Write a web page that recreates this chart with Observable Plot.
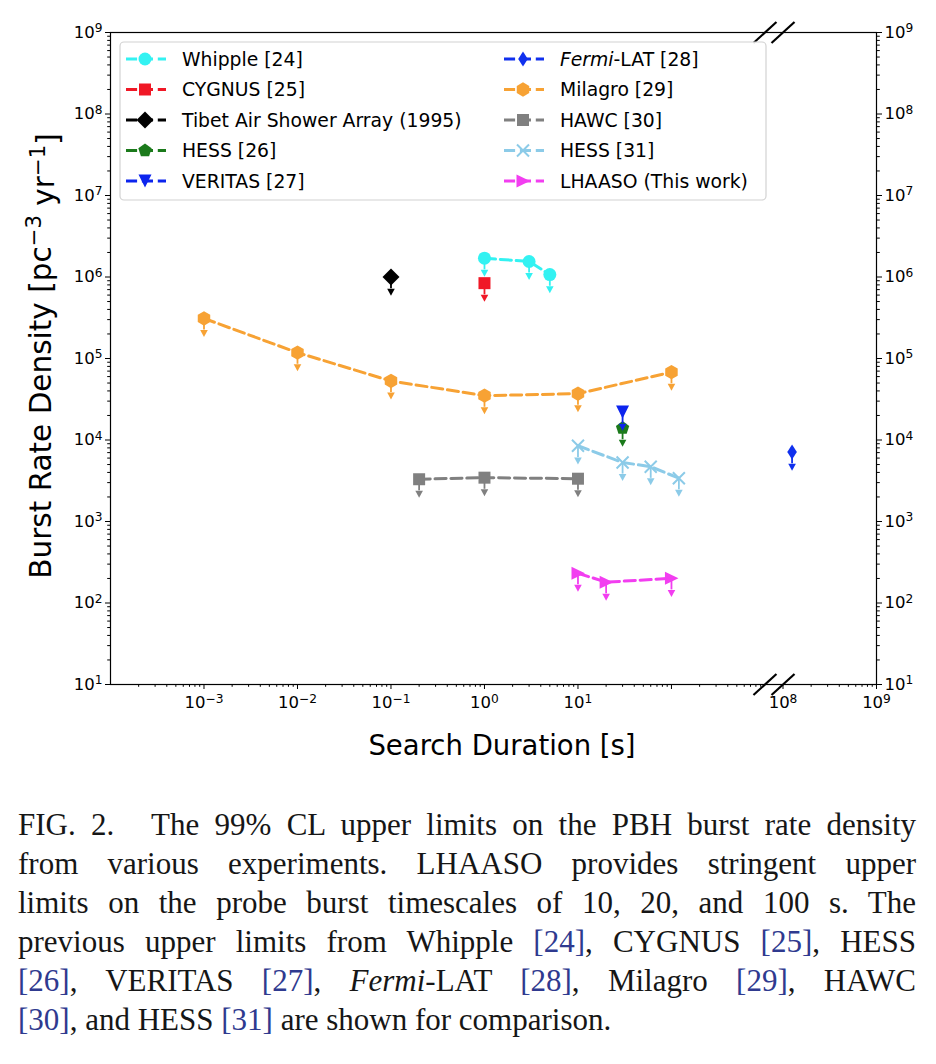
<!DOCTYPE html>
<html>
<head>
<meta charset="utf-8">
<script src="https://cdn.jsdelivr.net/npm/d3@7"></script>
<script src="https://cdn.jsdelivr.net/npm/@observablehq/plot@0.6"></script>
<style>
  body { margin: 0; background: #fff; }
  #chart svg { display: block; }
  #caption {
    font-family: "Liberation Serif", "Times New Roman", serif;
    font-size: 31px;
    line-height: 39px;
    color: #161616;
    width: 898px;
    margin: 15px 0 0 18px;
  }
  #caption .ln { text-align: justify; text-align-last: justify; }
  #caption .ln.last { text-align-last: left; }
  #caption .ref { color: #2f3a8f; }
  #caption .gap { display: inline-block; width: 22px; }
</style>
</head>
<body>
<div id="chart"></div>
<div id="caption">
  <div class="ln">FIG. 2.<span class="gap"></span> The 99% CL upper limits on the PBH burst rate density</div>
  <div class="ln">from various experiments. LHAASO provides stringent upper</div>
  <div class="ln">limits on the probe burst timescales of 10, 20, and 100 s. The</div>
  <div class="ln">previous upper limits from Whipple <span class="ref">[24]</span>, CYGNUS <span class="ref">[25]</span>, HESS</div>
  <div class="ln"><span class="ref">[26]</span>, VERITAS <span class="ref">[27]</span>, <i>Fermi</i>-LAT <span class="ref">[28]</span>, Milagro <span class="ref">[29]</span>, HAWC</div>
  <div class="ln last"><span class="ref">[30]</span>, and HESS <span class="ref">[31]</span> are shown for comparison.</div>
</div>
<script>
// ---- Upper limits on the PBH burst rate density (pc^-3 yr^-1) vs search duration (s) ----
const whippleDur = [1, 3, 5];
const whippleLim = [1.7e6, 1.55e6, 1.07e6];
const cygnusDur = [1];
const cygnusLim = [8.4e5];
const tibetDur = [0.1];
const tibetLim = [1.0e6];
const hess26Dur = [30];
const hess26Lim = [1.4e4];
const veritasDur = [30];
const veritasLim = [2.2e4];
const fermiDur = [1.25e8];
const fermiLim = [7.1e3];
const milagroDur = [1e-3, 1e-2, 1e-1, 1, 10, 100];
const milagroLim = [3.1e5, 1.18e5, 5.3e4, 3.5e4, 3.7e4, 6.8e4];
const hawcDur = [0.2, 1, 10];
const hawcLim = [3.3e3, 3.45e3, 3.35e3];
const hess31Dur = [10, 30, 60, 120];
const hess31Lim = [8.5e3, 5.3e3, 4.7e3, 3.4e3];
const lhaasoDur = [10, 20, 100];
const lhaasoLim = [232, 180, 201];

const seriesNames = ["Whipple [24]", "CYGNUS [25]", "Tibet Air Shower Array (1995)", "HESS [26]", "VERITAS [27]",
                     "Fermi-LAT [28]", "Milagro [29]", "HAWC [30]", "HESS [31]", "LHAASO (This work)"];
const seriesColors = ["#33f2f2", "#f01826", "#000000", "#1b7a1b", "#0c24ee",
                      "#1030ee", "#f7a234", "#808080", "#8ccbe8", "#f23ef0"];

const yMajorTicks = [1e1, 1e2, 1e3, 1e4, 1e5, 1e6, 1e7, 1e8, 1e9];
const xLabeledExponents = [-3, -2, -1, 0, 1, 8, 9];

// ---- broken x axis: log10(duration), with the decades between 1e3 and 1e8 cut out ----
const BREAK_LO = 3;          // log10 of the last value on the left segment
const GAP = 4.807;           // removed span (leaves a small spacer before 1e8)
const BREAK_HI = 8 - GAP;
const xpos = t => { const L = Math.log10(t); return L <= BREAK_LO + 1e-9 ? L : L - GAP; };
const ARROW = 0.72;          // lower end of the upper-limit arrow shaft, as a fraction of the limit

// ---- marker shapes ----
const poly = pts => ({ draw(ctx) { ctx.moveTo(...pts[0]); for (const p of pts.slice(1)) ctx.lineTo(...p); ctx.closePath(); } });
const regular = (n, r, a0) => poly(d3.range(n).map(i => { const a = a0 + i * 2 * Math.PI / n; return [r * Math.cos(a), r * Math.sin(a)]; }));
const circleSym = { draw(ctx) { ctx.moveTo(6.5, 0); ctx.arc(0, 0, 6.5, 0, 2 * Math.PI); } };
const squareSym = poly([[-6, -6], [6, -6], [6, 6], [-6, 6]]);
const diamondSym = poly([[0, -8.5], [8.5, 0], [0, 8.5], [-8.5, 0]]);
const thinDiamondSym = poly([[0, -7.5], [4.8, 0], [0, 7.5], [-4.8, 0]]);
const pentagonSym = regular(5, 7, -Math.PI / 2);
const hexagonSym = regular(6, 7.2, -Math.PI / 2);
const triDownSym = poly([[-6.5, -6.5], [6.5, -6.5], [0, 6.5]]);
const triRightSym = poly([[-6.5, -6.5], [7, 0], [-6.5, 6.5]]);
const xSym = { draw(ctx) { ctx.moveTo(-6, -6); ctx.lineTo(6, 6); ctx.moveTo(-6, 6); ctx.lineTo(6, -6); } };
const arrowSym = poly([[-3.8, 0], [3.8, 0], [0, 7]]);
const slashSym = { draw(ctx) { ctx.moveTo(-11.5, 10.5); ctx.lineTo(11.5, -10.5); } };

const series = [
  { dur: whippleDur, lim: whippleLim, symbol: circleSym },
  { dur: cygnusDur, lim: cygnusLim, symbol: squareSym },
  { dur: tibetDur, lim: tibetLim, symbol: diamondSym },
  { dur: hess26Dur, lim: hess26Lim, symbol: pentagonSym },
  { dur: veritasDur, lim: veritasLim, symbol: triDownSym },
  { dur: fermiDur, lim: fermiLim, symbol: thinDiamondSym },
  { dur: milagroDur, lim: milagroLim, symbol: hexagonSym },
  { dur: hawcDur, lim: hawcLim, symbol: squareSym },
  { dur: hess31Dur, lim: hess31Lim, symbol: xSym, outline: true },
  { dur: lhaasoDur, lim: lhaasoLim, symbol: triRightSym }
].map((s, i) => ({ ...s, name: seriesNames[i], color: seriesColors[i],
                   rows: s.dur.map((t, j) => ({ t, v: s.lim[j] })) }));

// ---- ticks ----
const yMinorTicks = [];
for (let e = 1; e < 9; e++) for (let m = 2; m <= 9; m++) yMinorTicks.push(m * 10 ** e);
const xMajorTicks = [-3, -2, -1, 0, 1, 2, BREAK_HI, BREAK_HI + 1];
const xMinorTicks = [];
for (let e = -4; e < 3; e++) for (let m = 2; m <= 9; m++) xMinorTicks.push(xpos(m * 10 ** e));
for (let m = 2; m <= 9; m++) xMinorTicks.push(xpos(m * 1e8));
const xExponent = c => Math.round(c <= BREAK_LO + 1e-9 ? c : c + GAP);
const xTickText = c => xLabeledExponents.includes(xExponent(c)) ? `10^${xExponent(c)}` : "";
const yTickText = d => `10^${Math.round(Math.log10(d))}`;

const dataMarks = [];
for (const s of series) {
  const x = d => xpos(d.t);
  if (s.rows.length > 1)
    dataMarks.push(Plot.line(s.rows, { x, y: "v", stroke: s.color, strokeWidth: 3, strokeDasharray: "11.1,4.8" }));
  dataMarks.push(Plot.ruleX(s.rows, { x, y1: "v", y2: d => d.v * ARROW, stroke: s.color, strokeWidth: 1.8 }));
  dataMarks.push(Plot.dot(s.rows, { x, y: d => d.v * ARROW, symbol: arrowSym, fill: s.color, stroke: "none" }));
  dataMarks.push(Plot.dot(s.rows, s.outline
    ? { x, y: "v", symbol: s.symbol, fill: "none", stroke: s.color, strokeWidth: 2 }
    : { x, y: "v", symbol: s.symbol, fill: s.color, stroke: "none" }));
}

const breakMarks = [
  { c: BREAK_LO, v: 1e1 }, { c: BREAK_HI, v: 1e1 }, { c: BREAK_LO, v: 1e9 }, { c: BREAK_HI, v: 1e9 }
];

const svg = Plot.plot({
  width: 936,
  height: 790,
  marginLeft: 110,
  marginRight: 60,
  marginTop: 32,
  marginBottom: 106,
  style: { fontFamily: "DejaVu Sans", fontSize: "16px", color: "black", background: "white" },
  x: { type: "linear", domain: [-4, BREAK_HI + 1], axis: null },
  y: { type: "log", domain: [1e1, 1e9], axis: null },
  marks: [
    Plot.axisY(yMajorTicks, { anchor: "left", tickSize: 5, tickPadding: 3, tickFormat: yTickText, label: null, fontSize: 16.5 }),
    Plot.axisY(yMinorTicks, { anchor: "left", tickSize: 2.8, tickFormat: () => "", label: null }),
    Plot.axisY(yMajorTicks, { anchor: "right", tickSize: 5, tickPadding: 3, tickFormat: yTickText, label: null, fontSize: 16.5 }),
    Plot.axisY(yMinorTicks, { anchor: "right", tickSize: 2.8, tickFormat: () => "", label: null }),
    Plot.axisX(xMajorTicks, { anchor: "bottom", tickSize: 5, tickPadding: 7, tickFormat: xTickText, label: null, fontSize: 16.5 }),
    Plot.axisX(xMinorTicks, { anchor: "bottom", tickSize: 2.8, tickFormat: () => "", label: null }),
    ...dataMarks,
    Plot.frame({ stroke: "black", strokeWidth: 1.2 }),
    Plot.dot(breakMarks, { x: "c", y: "v", symbol: slashSym, stroke: "black", strokeWidth: 2.2, fill: "none" })
  ]
});

// exponent tick labels "10^n" -> 10 with a raised exponent
d3.select(svg).selectAll("text").each(function () {
  const m = this.textContent.match(/^10\^(-?\d+)$/);
  if (!m) return;
  const el = d3.select(this);
  el.text(null);
  el.append("tspan").text("10");
  el.append("tspan").attr("dy", "-0.45em").attr("font-size", "0.74em").text(m[1].replace("-", "\u2212"));
});

const root = d3.select(svg);

// axis titles
const yTitle = root.append("text")
  .attr("transform", "translate(40,356) rotate(-90)")
  .attr("text-anchor", "middle").attr("dy", "0.36em")
  .attr("font-family", "DejaVu Sans").attr("font-size", 29.5).attr("fill", "black");
yTitle.append("tspan").text("Burst Rate Density [pc");
yTitle.append("tspan").attr("dy", "-0.45em").attr("font-size", "0.72em").text("\u22123");
yTitle.append("tspan").attr("dy", "0.45em").text(" yr");
yTitle.append("tspan").attr("dy", "-0.45em").attr("font-size", "0.72em").text("\u22121");
yTitle.append("tspan").attr("dy", "0.45em").text("]");

root.append("text")
  .attr("x", 502).attr("y", 745)
  .attr("text-anchor", "middle").attr("dy", "0.36em")
  .attr("font-family", "DejaVu Sans").attr("font-size", 27.5).attr("fill", "black")
  .text("Search Duration [s]");

// legend (two columns, five rows)
const lg = root.append("g").attr("font-family", "DejaVu Sans").attr("font-size", 18.8).attr("text-anchor", "start");
lg.append("rect").attr("x", 120).attr("y", 42).attr("width", 646).attr("height", 158).attr("rx", 4)
  .attr("fill", "white").attr("fill-opacity", 0.85).attr("stroke", "#d2d2d2").attr("stroke-width", 1.2);
series.forEach((s, i) => {
  const col = Math.floor(i / 5), row = i % 5;
  const hx = col === 0 ? 126 : 504;
  const cy = 59 + row * 30.5;
  lg.append("line").attr("x1", hx).attr("x2", hx + 40).attr("y1", cy).attr("y2", cy)
    .attr("stroke", s.color).attr("stroke-width", 3).attr("stroke-dasharray", "11.1,4.8");
  const p = d3.path(); s.symbol.draw(p);
  lg.append("path").attr("d", p.toString()).attr("transform", `translate(${hx + 19},${cy})`)
    .attr("fill", s.outline ? "none" : s.color).attr("stroke", s.outline ? s.color : "none").attr("stroke-width", 2);
  const t = lg.append("text").attr("x", hx + 56).attr("y", cy).attr("dy", "0.36em")
    .attr("text-anchor", "start").attr("fill", "black");
  if (s.name.startsWith("Fermi")) {
    t.append("tspan").attr("font-style", "italic").text("Fermi");
    t.append("tspan").text(s.name.slice(5));
  } else {
    t.text(s.name);
  }
});

document.getElementById("chart").appendChild(svg);
</script>
</body>
</html>
